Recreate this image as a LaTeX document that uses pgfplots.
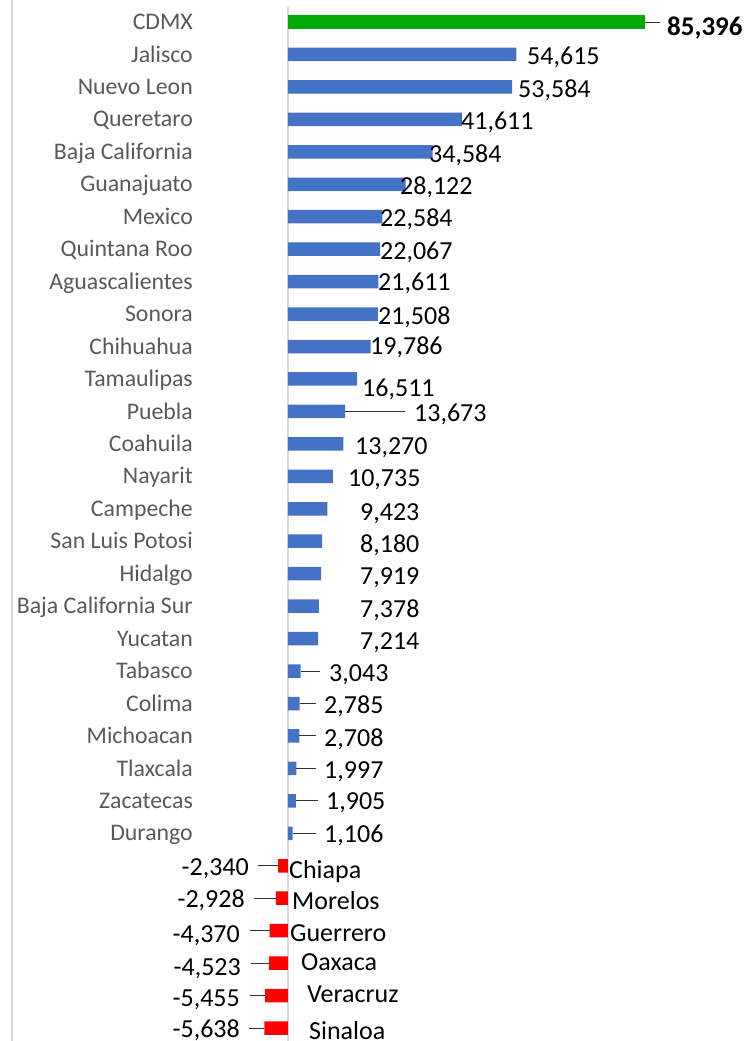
\documentclass[border=0pt]{standalone}
\usepackage{fontspec}
\setmainfont{Carlito}
\usepackage{pgfplots}
\usepackage{pgfplotstable}
\pgfplotsset{compat=1.18}

\definecolor{cdmx}{RGB}{0,170,0}
\definecolor{barblue}{RGB}{68,114,196}
\definecolor{barred}{RGB}{255,0,0}
\definecolor{catgray}{RGB}{89,89,89}
\definecolor{linegray}{RGB}{217,217,217}

% y = row (0 at top), dx = gap bar end -> label (bp), dc = label centre below row (bp)
\pgfplotstableread{
y val dx dc lab
0 85396 22 5 85,396
}\topdata

\pgfplotstableread{
y val dx dc lab
1 54615 10.7 2 54,615
2 53584 6 2 53,584
3 41611 -1 2 41,611
4 34584 -3.6 2 34,584
5 28122 -5.6 2 28,122
6 22584 -2.4 2 22,584
7 22067 -0.3 2 22,067
8 21611 -0.3 1 21,611
9 21508 0 2 21,508
10 19786 -0.7 0 19,786
11 16511 5 9 16,511
12 13673 68.8 2 13,673
13 13270 11.5 2 13,270
14 10735 15 2 10,735
15 9423 32.6 4 9,423
16 8180 37.8 3 8,180
17 7919 38.9 3 7,919
18 7378 41.2 3 7,378
19 7214 41.8 3 7,214
20 3043 28.3 2 3,043
21 2785 24.4 2 2,785
22 2708 24.7 2 2,708
23 1997 27.7 2 1,997
24 1905 30 0 1,905
25 1106 31.4 1 1,106
}\posdata

\pgfplotstableread{
y val dx dc lab name nx nc
26 -2340 -29.2 1.5 -2,340 Chiapa 1 4
27 -2928 -30.8 1.5 -2,928 Morelos 4 3
28 -4370 -29.7 4 -4,370 Guerrero 2 2
29 -4523 -28.1 4 -4,523 Oaxaca 13 -1
30 -5455 -25.2 3 -5,455 Veracruz 19 -1.5
31 -5638 -24.4 1 -5,638 Sinaloa 21 3
}\negdata

% leader lines: start x, row, length
\pgfplotstableread{
x y u
85396 0 3588
13673 12 14352
3043 20 4617
2785 21 3923
2708 22 3995
1997 23 4712
1905 24 5262
1106 25 5597
-2340 26 -4832
-2928 27 -5215
-4370 28 -4712
-4523 29 -4330
-5455 30 -3636
-5638 31 -3684
}\leaders

\pgfplotsset{
    vallabel/.style={
        point meta=explicit symbolic,
        visualization depends on={\thisrow{dx}\as\dx},
        visualization depends on={\thisrow{dc}\as\dc},
        nodes near coords={\pgfplotspointmeta},
        nodes near coords style={anchor=#1, inner sep=0pt, text=black,
            font=\fontsize{26bp}{30bp}\selectfont,
            xshift=\dx bp, yshift={-(\dc)*1bp-8.2bp}}},
}

\begin{document}
\begin{tikzpicture}
\begin{axis}[
    scale only axis,
    width=746bp, height=1041bp,
    xmin=-68889, xmax=109554,
    ymin=-0.678, ymax=31.40,
    y dir=reverse,
    clip=false,
    axis line style={draw=none},
    major tick length=0pt,
    xtick=\empty,
    ytick={0,...,25},
    yticklabels={CDMX,Jalisco,Nuevo Leon,Queretaro,Baja California,Guanajuato,Mexico,Quintana Roo,Aguascalientes,Sonora,Chihuahua,Tamaulipas,Puebla,Coahuila,Nayarit,Campeche,San Luis Potosi,Hidalgo,Baja California Sur,Yucatan,Tabasco,Colima,Michoacan,Tlaxcala,Zacatecas,Durango},
    yticklabel style={anchor=base east, inner sep=0pt, xshift=193bp, yshift=-7.6bp,
        text=catgray, font=\fontsize{23.8bp}{28bp}\selectfont},
    xbar, bar shift=0pt, bar width=13.5bp,
]
\draw[line width=1.5bp, linegray] (rel axis cs:0.0161,0) -- (rel axis cs:0.0161,1);
\draw[line width=2bp, linegray] (axis cs:0,-0.46) -- (axis cs:0,31.40);

\addplot[fill=cdmx, draw=none, vallabel=base west,
    nodes near coords style={font=\bfseries\fontsize{27bp}{31bp}\selectfont}]
    table[x=val, y=y, meta=lab] {\topdata};

\addplot[fill=barblue, draw=none, vallabel=base west]
    table[x=val, y=y, meta=lab] {\posdata};

\addplot[fill=barred, draw=none, vallabel=base east]
    table[x=val, y=y, meta=lab] {\negdata};

\addplot[draw=none, mark=none, forget plot,
    point meta=explicit symbolic,
    visualization depends on={\thisrow{nx}\as\nx},
    visualization depends on={\thisrow{nc}\as\nc},
    nodes near coords={\pgfplotspointmeta},
    nodes near coords style={anchor=base west, inner sep=0pt, text=black,
        font=\fontsize{26bp}{30bp}\selectfont,
        xshift=\nx bp, yshift={-(\nc)*1bp-8.4bp}}]
    table[x expr=0, y=y, meta=name] {\negdata};

\addplot[black!80, line width=1bp, quiver={u=\thisrow{u}, v=0}]
    table[x=x, y=y] {\leaders};
\end{axis}
\pgfresetboundingbox
\path (current axis.south west) rectangle (current axis.north east);
\end{tikzpicture}
\end{document}
